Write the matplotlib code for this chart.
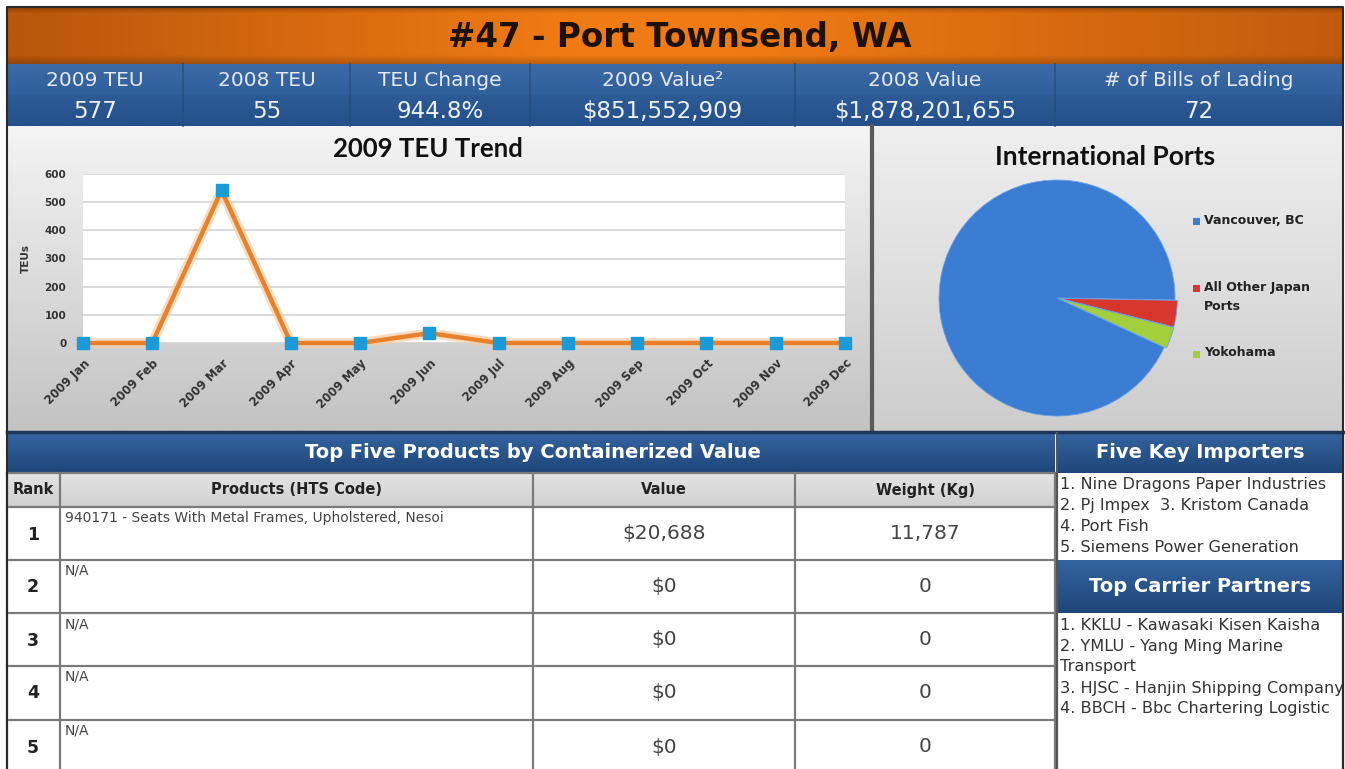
import numpy as np
import matplotlib.pyplot as plt
import matplotlib.colors as mcolors
from matplotlib.patches import Rectangle

# 캔버스 크기 (픽셀)
W, H = 1345, 769
DPI = 100

# ---- 데이터 ----
port_title = "#47 - Port Townsend, WA"
stat_labels = ["2009 TEU", "2008 TEU", "TEU Change", "2009 Value²", "2008 Value", "# of Bills of Lading"]
stat_values = ["577", "55", "944.8%", "\\$851,552,909", "\\$1,878,201,655", "72"]

months = ["2009 Jan", "2009 Feb", "2009 Mar", "2009 Apr", "2009 May", "2009 Jun",
          "2009 Jul", "2009 Aug", "2009 Sep", "2009 Oct", "2009 Nov", "2009 Dec"]
teu_2009 = [0, 0, 542, 0, 0, 35, 0, 0, 0, 0, 0, 0]

ports = ["Vancouver, BC", "All Other Japan\nPorts", "Yokohama"]
port_teu = [539, 21, 17]
port_colors = ["#3a7dd3", "#d8372e", "#a3cf3c"]

table_header = ["Rank", "Products (HTS Code)", "Value", "Weight (Kg)"]
ranks = ["1", "2", "3", "4", "5"]
products = ["940171 - Seats With Metal Frames, Upholstered, Nesoi", "N/A", "N/A", "N/A", "N/A"]
values = ["\\$20,688", "\\$0", "\\$0", "\\$0", "\\$0"]
weights = ["11,787", "0", "0", "0", "0"]

importers = ["1. Nine Dragons Paper Industries", "2. Pj Impex  3. Kristom Canada",
             "4. Port Fish", "5. Siemens Power Generation"]
carriers = ["1. KKLU - Kawasaki Kisen Kaisha", "2. YMLU - Yang Ming Marine", "Transport",
            "3. HJSC - Hanjin Shipping Company", "4. BBCH - Bbc Chartering Logistic"]

plt.rcParams["font.family"] = ["DejaVu Sans"]


def fig_box(x0, y0, x1, y1):
    # 픽셀 좌표 -> figure 비율
    return [x0 / W, 1 - y1 / H, (x1 - x0) / W, (y1 - y0) / H]


def vgrad(ax, x0, y0, x1, y1, top, bottom, z=0):
    c0 = np.array(mcolors.to_rgb(top))
    c1 = np.array(mcolors.to_rgb(bottom))
    t = np.linspace(0, 1, 64)[:, None]
    img = (c0 * (1 - t) + c1 * t)[:, None, :]
    ax.imshow(img, extent=(x0, x1, y1, y0), aspect="auto", zorder=z, interpolation="bilinear")


fig = plt.figure(figsize=(W / DPI, H / DPI), dpi=DPI)
fig.patch.set_facecolor("white")
bg = fig.add_axes([0, 0, 1, 1])
bg.axis("off")

# 제목 바 (주황색 그라데이션)
xs = np.linspace(0, 1, 200)
prof = np.interp(xs, [0, 0.42, 0.55, 1], [0.0, 1.0, 1.0, 0.15])
dark = np.array(mcolors.to_rgb("#b9560b"))
light = np.array(mcolors.to_rgb("#f07b14"))
row = dark * (1 - prof[:, None]) + light * prof[:, None]
vy = np.linspace(0, 1, 40)
vfac = np.interp(vy, [0, 0.1, 0.85, 1], [0.75, 1.0, 1.0, 0.8])
img = row[None, :, :] * vfac[:, None, None]
bg.imshow(img, extent=(7, 1343, 64, 7), aspect="auto", zorder=0, interpolation="bilinear")
bg.text(680, 37, port_title, ha="center", va="center", fontsize=23.5, fontweight="bold", color="#1c1208")

# 요약 수치 바
stat_edges = [7, 183, 350, 530, 795, 1055, 1343]
vgrad(bg, 7, 64, 1343, 95, "#3b6aa6", "#30609b")
vgrad(bg, 7, 95, 1343, 126, "#2d5b95", "#24508a")
for x in stat_edges[1:-1]:
    bg.plot([x, x], [64, 126], color="#25497a", lw=1.5, alpha=0.6, zorder=1)
for i, (lab, val) in enumerate(zip(stat_labels, stat_values)):
    cx = (stat_edges[i] + stat_edges[i + 1]) / 2
    bg.text(cx, 80, lab, ha="center", va="center", fontsize=14.5, color="#e6e9ee")
    bg.text(cx, 111, val, ha="center", va="center", fontsize=16.5, color="#eef0f3")

# 차트 패널 배경
vgrad(bg, 7, 126, 870, 431, "#f4f4f4", "#c3c3c3")
vgrad(bg, 873, 126, 1343, 431, "#efefef", "#cdcdcd")
bg.plot([871.5, 871.5], [126, 431], color="#5a5a5a", lw=3, zorder=1)

bg.text(428, 149, "2009 TEU Trend", ha="center", va="center", fontsize=18.5,
        fontweight="bold", family="Lato", color="#111111")
bg.text(1105, 157, "International Ports", ha="center", va="center", fontsize=19,
        fontweight="bold", family="Lato", color="#111111")

# 하단 표 영역
bg.add_patch(Rectangle((7, 431), 1336, 338, facecolor="white", edgecolor="none", zorder=0))
bg.plot([7, 1343], [432, 432], color="#1e3558", lw=2.5, zorder=2)
vgrad(bg, 8, 433, 1055, 473, "#34649f", "#1f4679")
vgrad(bg, 1057, 433, 1343, 473, "#34649f", "#1f4679")
vgrad(bg, 1057, 560, 1343, 613, "#34649f", "#1f4679")
vgrad(bg, 8, 473, 1055, 507, "#e4e4e4", "#d0d0d0")
bg.text(533, 453, "Top Five Products by Containerized Value", ha="center", va="center",
        fontsize=14, fontweight="bold", color="white")
bg.text(1200, 453, "Five Key Importers", ha="center", va="center",
        fontsize=14, fontweight="bold", color="white")
bg.text(1200, 587, "Top Carrier Partners", ha="center", va="center",
        fontsize=14, fontweight="bold", color="white")

col_edges = [7, 60, 533, 795, 1055]
row_edges = [507, 560, 613, 666, 720, 773]
for i, lab in enumerate(table_header):
    cx = (col_edges[i] + col_edges[i + 1]) / 2
    bg.text(cx, 490, lab, ha="center", va="center", fontsize=10.5, fontweight="bold", color="#222222")
for x in col_edges:
    bg.plot([x, x], [473, 769], color="#7a7a7a", lw=1.6, zorder=2)
for y in [473, 507] + row_edges[1:-1]:
    bg.plot([7, 1055], [y, y], color="#7a7a7a", lw=1.6, zorder=2)
for r in range(5):
    y0, y1 = row_edges[r], row_edges[r + 1]
    cy = (y0 + 53 / 2) if r < 4 else 747
    bg.text(33, cy + 1, ranks[r], ha="center", va="center", fontsize=12.5, fontweight="bold", color="#222222")
    bg.text(65, y0 + 4, products[r], ha="left", va="top", fontsize=10, color="#444444")
    bg.text(664, cy, values[r], ha="center", va="center", fontsize=14.5, color="#444444")
    bg.text(925, cy, weights[r], ha="center", va="center", fontsize=14.5, color="#444444")

for i, line in enumerate(importers):
    bg.text(1060, 484 + i * 21.3, line, ha="left", va="center", fontsize=11.6, color="#333333")
for i, line in enumerate(carriers):
    bg.text(1060, 625 + i * 21, line, ha="left", va="center", fontsize=11.6, color="#333333")
bg.plot([1057, 1057], [433, 769], color="#555555", lw=1.6, zorder=2)
bg.plot([1343, 1343], [433, 769], color="#555555", lw=1.6, zorder=4)

# 외곽선
bg.plot([7, 7, 1343, 1343], [769, 7, 7, 769], color="#2a2a2a", lw=1.5, zorder=5)

bg.set_xlim(0, W)
bg.set_ylim(H, 0)

# ---- 2009 TEU 추이 (선 그래프) ----
ax = fig.add_axes(fig_box(83, 174, 845, 343))
ax.set_facecolor("white")
x = np.arange(len(months))
ax.plot(x, teu_2009, color="#f6cfa6", lw=7, alpha=0.7, solid_joinstyle="round", zorder=2, clip_on=False)
ax.plot(x, teu_2009, color="#e8812c", lw=3.2, marker="s", ms=9, mfc="#1b9ad8", mec="#1b9ad8",
        zorder=3, clip_on=False)
ax.set_xlim(0, 11)
ax.set_ylim(0, 600)
ax.set_yticks(range(0, 601, 100))
ax.set_xticks(x)
ax.set_xticklabels(months, rotation=45, ha="right", rotation_mode="anchor",
                   fontsize=8.5, fontweight="bold", color="#333333")
for lab in ax.get_yticklabels():
    lab.set_fontsize(7.5)
    lab.set_fontweight("bold")
    lab.set_color("#333333")
ax.tick_params(axis="both", length=0)
ax.tick_params(axis="x", pad=10)
ax.tick_params(axis="y", pad=12)
ax.grid(axis="y", color="#d3d3d3", lw=1.2)
ax.set_axisbelow(True)
for s in ax.spines.values():
    s.set_visible(False)
ax.set_ylabel("TEUs", fontsize=7.5, fontweight="bold", color="#333333", labelpad=10)

# ---- 국제 항구 (파이 차트) ----
cx, cy, r = 1057, 298, 118
pad = 1.12
pax = fig.add_axes(fig_box(cx - r * pad, cy - r * pad, cx + r * pad, cy + r * pad))
wedges, _ = pax.pie(port_teu, colors=port_colors, startangle=-24.7, counterclock=False,
                    explode=[0, 0.02, 0.02], radius=1,
                    wedgeprops=dict(edgecolor="#6aa2e6", linewidth=0.6))
pax.set_xlim(-pad, pad)
pax.set_ylim(-pad, pad)
pax.set_aspect("equal")

# 범례
legend_y = [221, 288, 354]
for lab, col, ly in zip(ports, port_colors, legend_y):
    bg.add_patch(Rectangle((1193, ly - 3.5), 7, 7, facecolor=col, edgecolor="none", zorder=3))
    bg.text(1204, ly - 7.5, lab, ha="left", va="top", fontsize=9, fontweight="bold",
            color="#222222", linespacing=1.7, zorder=3)

fig.savefig("out.png", dpi=DPI)
